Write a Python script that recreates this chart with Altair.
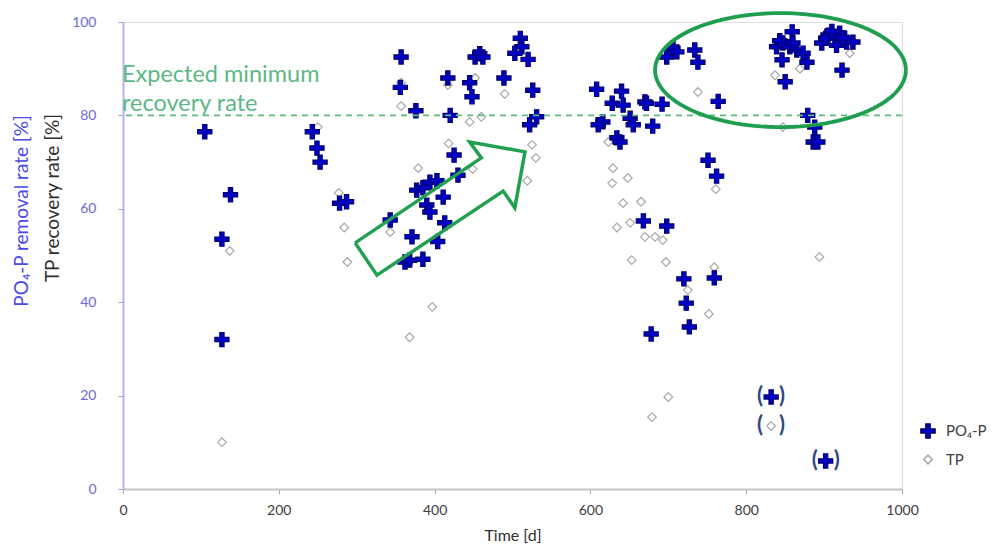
import altair as alt
import pandas as pd
import numpy as np

# ---------------- data ----------------
po4_day = [105, 127, 127, 138,
           243, 249, 253, 278, 287,
           357, 356, 376, 343, 371, 362, 368, 385,
           377, 385, 394, 403, 411, 390, 394, 413, 404,
           417, 420, 425, 430,
           452, 458, 462, 445, 448,
           489, 510, 512, 503, 520, 526, 531, 522,
           608, 640, 628, 642, 670, 692, 616, 610, 651, 655, 680, 634, 638, 672,
           751, 762, 668, 698, 720, 759, 723, 727, 678, 764,
           698, 706, 711, 734, 738,
           859, 839, 847, 856, 865, 873, 846, 878, 843, 860, 850,
           897, 905, 914, 920, 929, 937, 902, 916, 925, 910,
           923, 879, 888, 886, 892,
           832, 902]
po4_val = [76.5, 53.5, 32.0, 63.0,
           76.5, 73.0, 70.0, 61.2, 61.5,
           92.5, 86.0, 81.0, 57.6, 54.0, 48.6, 49.0, 49.2,
           64.0, 64.5, 65.7, 66.0, 62.5, 60.8, 59.3, 57.0, 53.0,
           88.0, 80.0, 71.5, 67.2,
           92.5, 93.2, 92.5, 87.0, 84.0,
           88.0, 96.5, 94.7, 93.3, 92.0, 85.4, 79.7, 78.0,
           85.6, 85.2, 82.6, 82.2, 82.9, 82.4, 78.6, 78.0, 79.4, 78.0, 77.7, 75.2, 74.3, 82.6,
           70.4, 67.0, 57.4, 56.3, 45.0, 45.2, 39.8, 34.7, 33.2, 83.0,
           92.5, 94.4, 93.6, 94.0, 91.4,
           97.9, 94.7, 95.5, 94.7, 94.0, 93.3, 91.9, 91.4, 96.0, 95.5, 87.2,
           95.5, 97.2, 96.8, 97.6, 95.7, 95.7, 96.5, 95.0, 96.6, 98.0,
           89.7, 80.0, 77.5, 74.3, 74.3,
           19.7, 6.0]

tp_day = [137, 127, 250,
          277, 284, 288,
          357, 357, 343, 379, 397, 368,
          417, 418, 452, 445, 460, 449, 490, 525, 530, 519,
          738, 623, 629, 628, 648, 642, 665, 634, 651, 670, 683, 693, 653, 697,
          761, 759, 725, 752, 700, 679,
          702, 837, 869, 847, 933, 894,
          832]
tp_val = [51.0, 10.0, 77.5,
          63.4, 56.0, 48.6,
          87.0, 82.0, 55.0, 68.7, 39.0, 32.5,
          86.5, 74.0, 88.0, 78.6, 79.7, 68.5, 84.6, 73.7, 70.9, 66.0,
          85.0, 74.3, 68.7, 65.5, 66.6, 61.2, 61.5, 56.0, 57.0, 54.0, 54.0, 53.3, 49.0, 48.6,
          64.2, 47.5, 42.6, 37.5, 19.7, 15.4,
          93.3, 88.6, 90.0, 77.5, 93.3, 49.7,
          13.5]

# points set in brackets in the original figure
paren_day = [832, 832, 902]
paren_val = [19.7, 13.5, 6.0]

series_names = ["PO\u2084-P", "TP"]
x_ticks = [0, 200, 400, 600, 800, 1000]
y_ticks = [0, 20, 40, 60, 80, 100]

threshold = [80]
note_lines = ["Expected minimum", "recovery rate"]
note_y = [88.6, 82.4]

# outline of the green arrow (data units)
arrow_day = [298, 326, 488, 503, 516, 445, 460, 298]
arrow_val = [52.7, 45.8, 63.8, 60.2, 72.2, 74.3, 70.9, 52.7]

# green ellipse: centre and half-axes (data units)
ell_cx, ell_cy, ell_ax, ell_ay = 844, 89.7, 161, 12.2

# ---------------- tables ----------------
pts = pd.concat([
    pd.DataFrame({"day": tp_day, "val": tp_val, "series": series_names[1]}),
    pd.DataFrame({"day": po4_day, "val": po4_val, "series": series_names[0]}),
], ignore_index=True)

arrow_df = pd.DataFrame({"day": arrow_day, "val": arrow_val, "ord": list(range(len(arrow_day)))})
t = np.linspace(0, 2 * np.pi, 121)
ell_df = pd.DataFrame({"day": ell_cx + ell_ax * np.cos(t), "val": ell_cy + ell_ay * np.sin(t),
                       "ord": np.arange(len(t))})
note_df = pd.DataFrame({"txt": note_lines, "val": note_y, "day": [0, 0]})
paren_df = pd.DataFrame({"day": paren_day, "val": paren_val})
thr_df = pd.DataFrame({"val": threshold})

FONT = "Lato"
xs = alt.Scale(domain=[0, 1000], nice=False)
ys = alt.Scale(domain=[0, 100], nice=False)

x_axis = alt.Axis(
    values=x_ticks, format="d", title="Time [d]", grid=False, domainColor="#c4c4c4", domainWidth=2,
    tickColor="#b0b0b0", tickSize=5, labelColor="#404040", labelFontSize=14,
    labelPadding=9, titleColor="#303030", titleFontSize=16, titleFontWeight="normal",
    titlePadding=10, labelFlush=False)
y_axis = alt.Axis(
    values=y_ticks, title=None, grid=False, domainColor="#b4b4f0", domainWidth=2,
    tickColor="#a0a0e0", tickSize=5, labelColor="#6a6ad8", labelFontSize=14,
    labelPadding=22)

X = alt.X("day:Q", scale=xs, axis=x_axis, title="Time [d]")
Y = alt.Y("val:Q", scale=ys, axis=y_axis, title=None)

thr = alt.Chart(thr_df).mark_rule(color="#5ebb80", strokeDash=[6, 5], strokeWidth=1.6).encode(y=Y)

note = alt.Chart(note_df).mark_text(align="left", baseline="middle", font=FONT, fontSize=23.5,
                                    color="#5db885", dx=-1).encode(
    x=X, y=Y, text="txt:N")

arrow = alt.Chart(arrow_df).mark_line(color="#22a052", strokeWidth=3.5, strokeJoin="miter",
                                      clip=False).encode(
    x=X, y=Y, order="ord:Q")

ellipse = alt.Chart(ell_df).mark_line(color="#1f9e4f", strokeWidth=3.8, clip=False).encode(
    x=X, y=Y, order="ord:Q")

plus_path = "M-0.3,-1H0.3V-0.3H1V0.3H0.3V1H-0.3V0.3H-1V-0.3H-0.3Z"
legend = alt.Legend(title=None, orient="none", legendX=797, legendY=401,
                    labelFont=FONT, labelFontSize=15, labelColor="#404040",
                    rowPadding=10, labelOffset=10)
points = alt.Chart(pts).mark_point(filled=False, opacity=1, clip=False).encode(
    x=X, y=Y,
    shape=alt.Shape("series:N", scale=alt.Scale(domain=series_names, range=[plus_path, "diamond"]),
                    legend=legend),
    fill=alt.Fill("series:N", scale=alt.Scale(domain=series_names, range=["#0000c8", "#ffffff"]),
                  legend=legend),
    stroke=alt.Stroke("series:N", scale=alt.Scale(domain=series_names, range=["#00006e", "#a8a8a8"]),
                      legend=legend),
    size=alt.Size("series:N", scale=alt.Scale(domain=series_names, range=[200, 75]), legend=legend),
    strokeWidth=alt.value(1.2),
)

paren_l = alt.Chart(paren_df).mark_text(text="(", font=FONT, fontSize=22, fontWeight="bold",
                                        color="#2c4a80", dx=-11, dy=-1).encode(x=X, y=Y)
paren_r = alt.Chart(paren_df).mark_text(text=")", font=FONT, fontSize=22, fontWeight="bold",
                                        color="#2c4a80", dx=11, dy=-1).encode(x=X, y=Y)

title_df = pd.DataFrame({"t": ["PO\u2084-P removal rate [%]"]})
title_df2 = pd.DataFrame({"t": ["TP recovery rate [%]"]})
ytitle1 = alt.Chart(title_df).mark_text(angle=270, font=FONT, fontSize=19, color="#4a4ae6",
                                        baseline="middle", align="center").encode(
    x=alt.value(-101), y=alt.value(189), text="t:N")
ytitle2 = alt.Chart(title_df2).mark_text(angle=270, font=FONT, fontSize=19, color="#303030",
                                         baseline="middle", align="center").encode(
    x=alt.value(-70), y=alt.value(176), text="t:N")

chart = alt.layer(points, thr, note, arrow, ellipse, paren_l, paren_r, ytitle1, ytitle2).properties(
    width=779, height=467,
    autosize=alt.AutoSizeParams(type="none"),
    padding={"left": 115, "top": 14, "right": 98, "bottom": 58},
).configure_view(stroke="#cccccc", strokeWidth=2).configure(font=FONT)

chart.save("out.html", embed_options={"renderer": "svg", "actions": False})
